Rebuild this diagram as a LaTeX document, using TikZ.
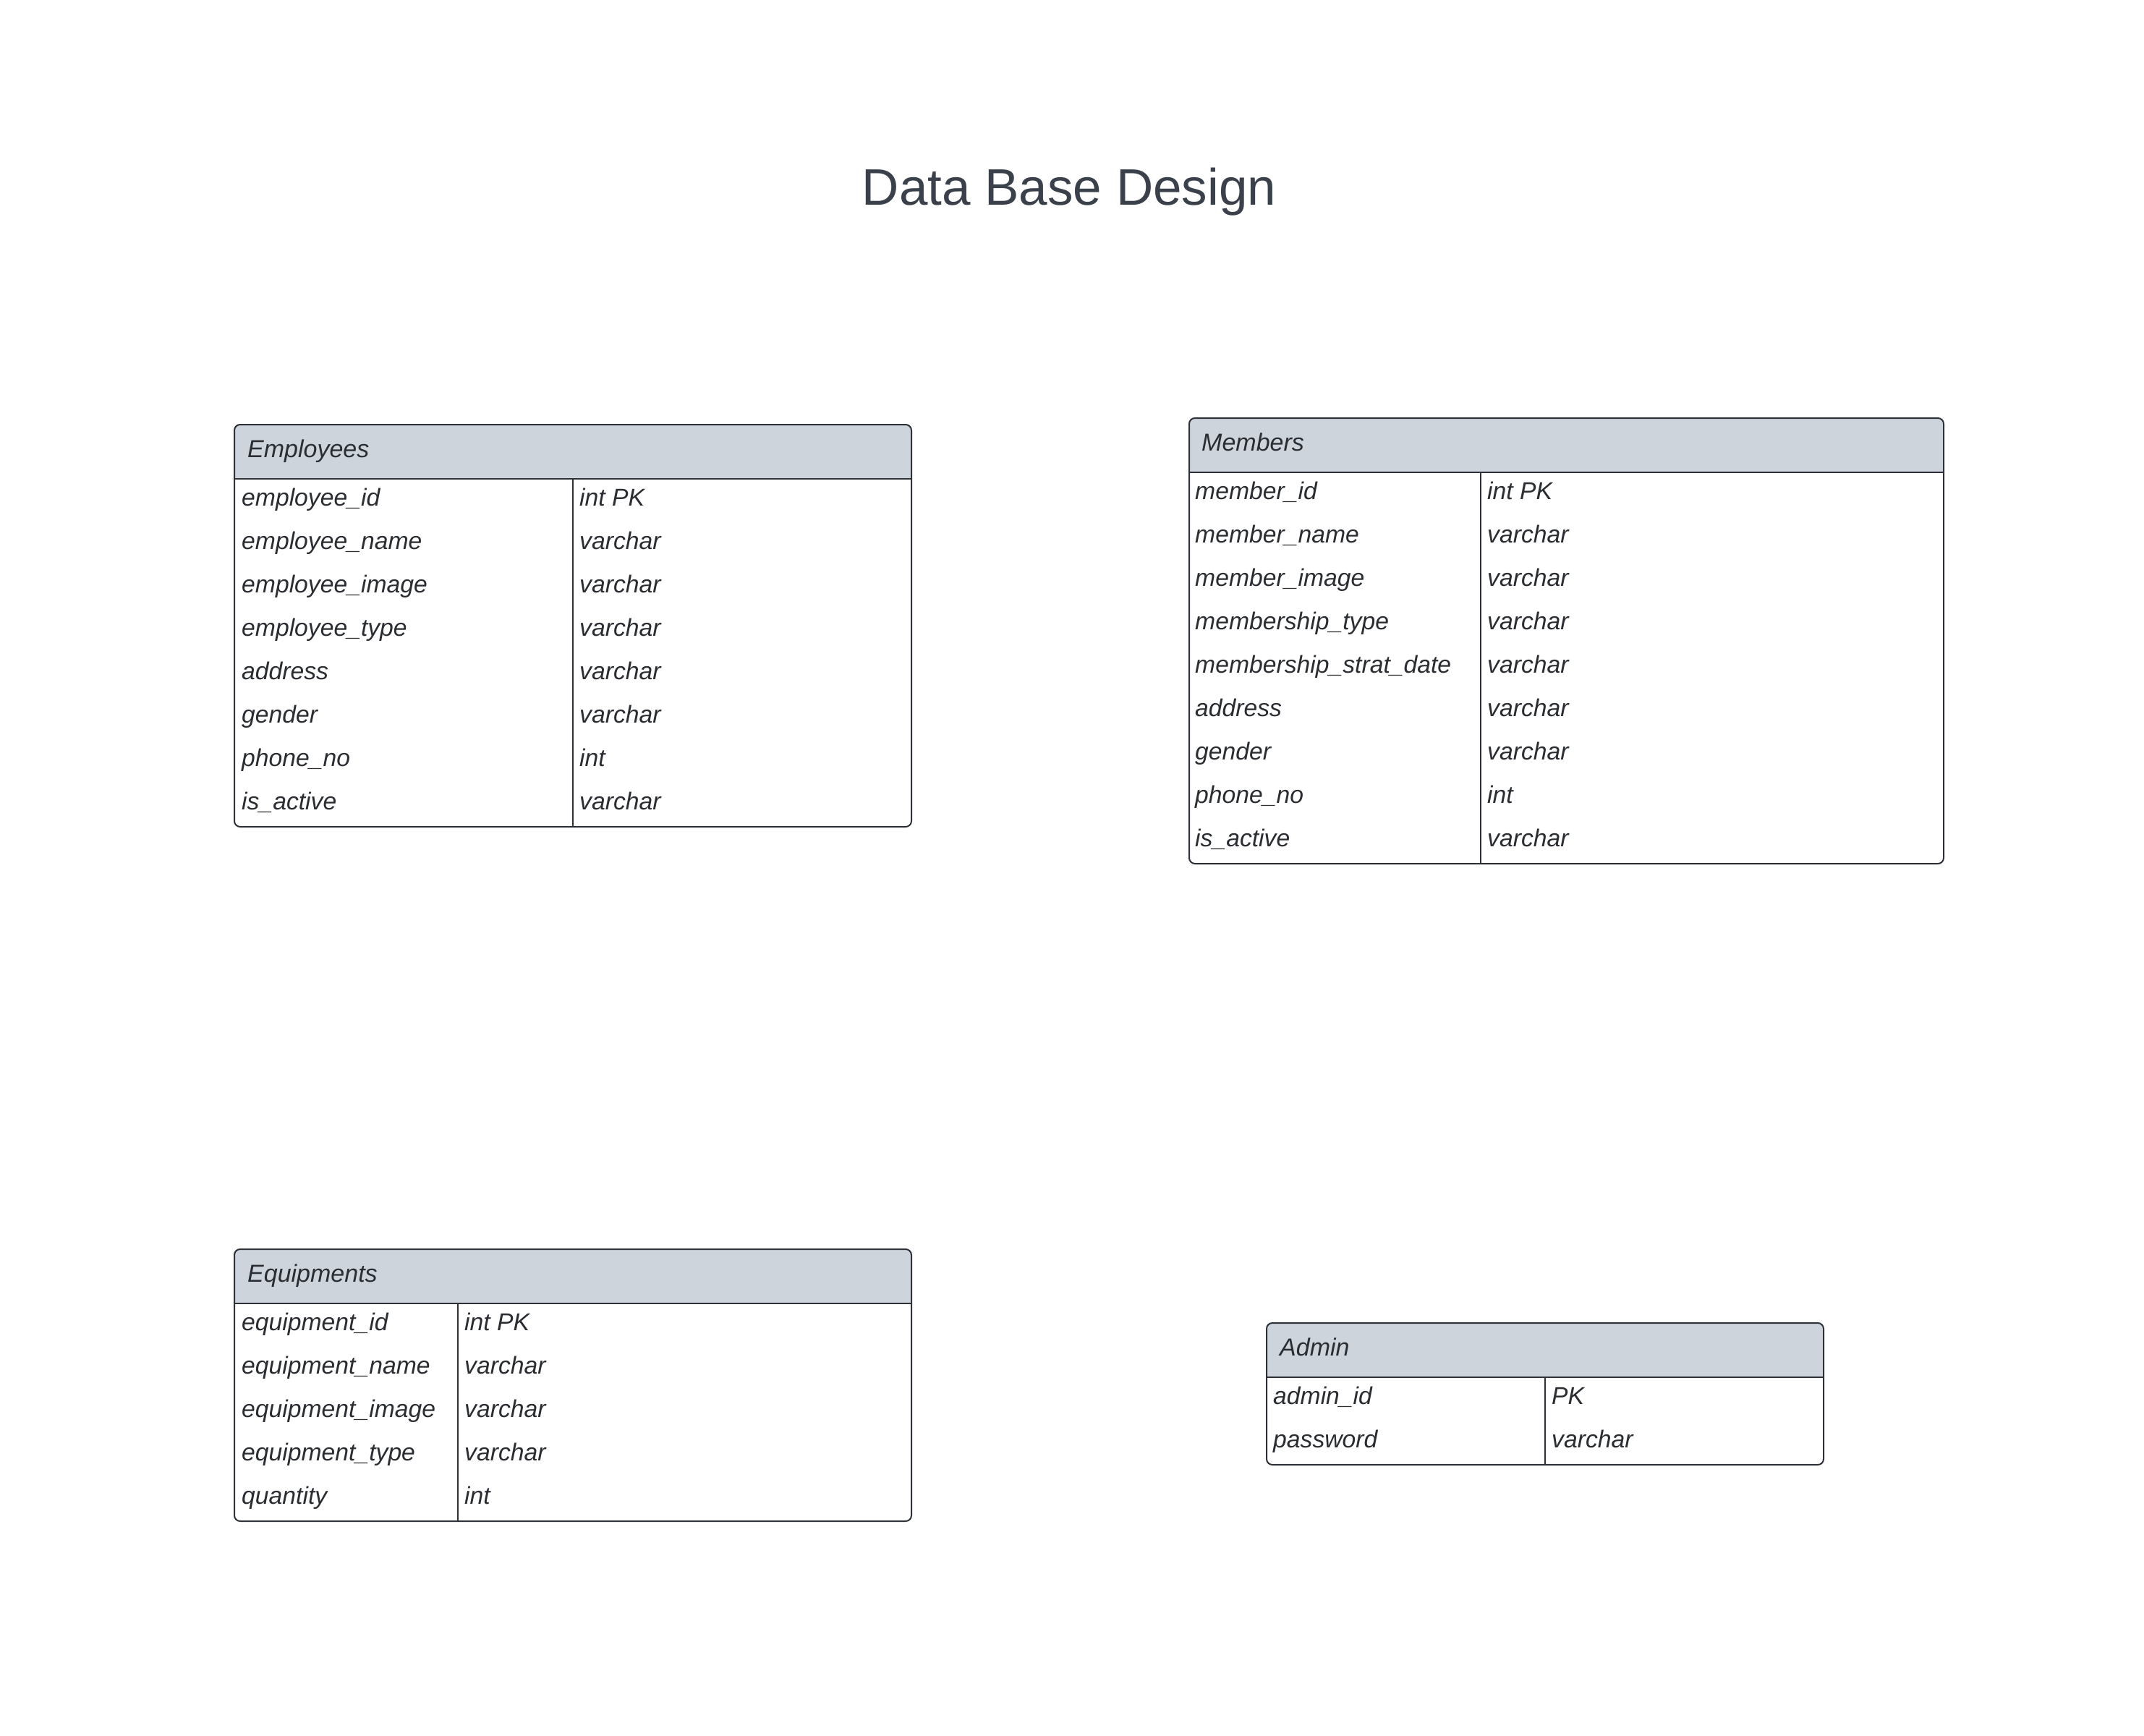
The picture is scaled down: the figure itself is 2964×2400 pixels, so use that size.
\documentclass[tikz,border=0pt]{standalone}
\usepackage{fontspec}
\setmainfont{Liberation Sans}
\usetikzlibrary{positioning}

\definecolor{headgray}{HTML}{CED4DC}
\definecolor{framegray}{HTML}{2E3238}
\definecolor{titlegray}{HTML}{3A414A}
\definecolor{textgray}{HTML}{2A2D31}

\tikzset{
    tablehead/.style={fill=headgray, rounded corners=8pt, inner sep=0pt, anchor=north west},
    tableframe/.style={draw=framegray, line width=2pt, rounded corners=8pt, inner sep=0pt, anchor=north west},
    tableline/.style={draw=framegray, line width=2pt},
    headtext/.style={text=textgray, inner sep=0pt, anchor=base west, font=\fontsize{34}{40}\selectfont\itshape},
    fieldtext/.style={text=textgray, inner sep=0pt, anchor=base west, font=\fontsize{33.7}{40}\selectfont\itshape},
}

\begin{document}
\begin{tikzpicture}[x=1pt, y=-1pt]
    \useasboundingbox[fill=white] (0,0) rectangle (2964,2400);

    % Title
    \node[text=titlegray, inner sep=0pt, anchor=base, font=\fontsize{71}{82}\selectfont] (title) at (1478,284) {Data Base Design};

    % Employees table
    \node[tablehead, minimum width=936pt, minimum height=76pt] (emphead) at (323,586) {};
    \fill[headgray] (emphead.west) rectangle (emphead.south east);
    \node[tableframe, minimum width=936pt, minimum height=556pt] (emp) at (323,586) {};
    \node[headtext] (empname) at (342,632) {Employees};
    \coordinate (empcol) at (792,662);
    \draw[tableline] (emphead.south west) -- (emphead.south east);
    \draw[tableline] (empcol) -- (empcol |- emp.south);
    \foreach \field/\kind [count=\i] in {employee\_id/int PK, employee\_name/varchar,
        employee\_image/varchar, employee\_type/varchar, address/varchar,
        gender/varchar, phone\_no/int, is\_active/varchar} {
        \node[fieldtext] (empf\i) at (334, {639+60*\i}) {\field};
        \node[fieldtext] (empk\i) at (801, {639+60*\i}) {\kind};
    }

    % Members table
    \node[tablehead, minimum width=1043pt, minimum height=76pt] (memhead) at (1643,577) {};
    \fill[headgray] (memhead.west) rectangle (memhead.south east);
    \node[tableframe, minimum width=1043pt, minimum height=616pt] (mem) at (1643,577) {};
    \node[headtext] (memname) at (1661,623) {Members};
    \coordinate (memcol) at (2047,653);
    \draw[tableline] (memhead.south west) -- (memhead.south east);
    \draw[tableline] (memcol) -- (memcol |- mem.south);
    \foreach \field/\kind [count=\i] in {member\_id/int PK, member\_name/varchar,
        member\_image/varchar, membership\_type/varchar, membership\_strat\_date/varchar,
        address/varchar, gender/varchar, phone\_no/int, is\_active/varchar} {
        \node[fieldtext] (memf\i) at (1652, {630+60*\i}) {\field};
        \node[fieldtext] (memk\i) at (2056, {630+60*\i}) {\kind};
    }

    % Equipments table
    \node[tablehead, minimum width=936pt, minimum height=76pt] (equhead) at (323,1726) {};
    \fill[headgray] (equhead.west) rectangle (equhead.south east);
    \node[tableframe, minimum width=936pt, minimum height=376pt] (equ) at (323,1726) {};
    \node[headtext] (equname) at (342,1772) {Equipments};
    \coordinate (equcol) at (633,1802);
    \draw[tableline] (equhead.south west) -- (equhead.south east);
    \draw[tableline] (equcol) -- (equcol |- equ.south);
    \foreach \field/\kind [count=\i] in {equipment\_id/int PK, equipment\_name/varchar,
        equipment\_image/varchar, equipment\_type/varchar, quantity/int} {
        \node[fieldtext] (equf\i) at (334, {1779+60*\i}) {\field};
        \node[fieldtext] (equk\i) at (642, {1779+60*\i}) {\kind};
    }

    % Admin table
    \node[tablehead, minimum width=770pt, minimum height=76pt] (admhead) at (1750,1828) {};
    \fill[headgray] (admhead.west) rectangle (admhead.south east);
    \node[tableframe, minimum width=770pt, minimum height=196pt] (adm) at (1750,1828) {};
    \node[headtext] (admname) at (1769,1874) {Admin};
    \coordinate (admcol) at (2136,1904);
    \draw[tableline] (admhead.south west) -- (admhead.south east);
    \draw[tableline] (admcol) -- (admcol |- adm.south);
    \foreach \field/\kind [count=\i] in {admin\_id/PK, password/varchar} {
        \node[fieldtext] (admf\i) at (1760, {1881+60*\i}) {\field};
        \node[fieldtext] (admk\i) at (2145, {1881+60*\i}) {\kind};
    }
\end{tikzpicture}
\end{document}
